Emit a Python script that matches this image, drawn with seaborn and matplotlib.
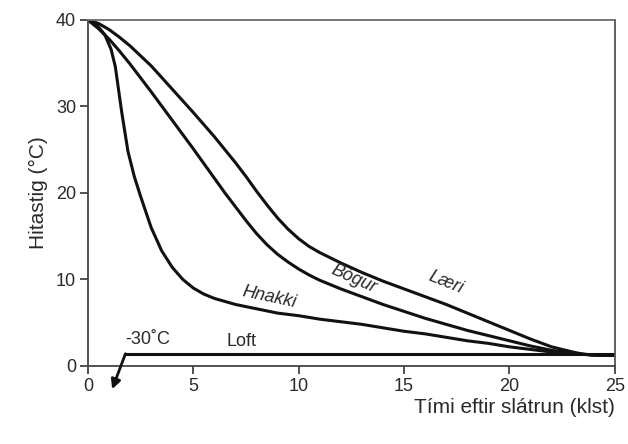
import numpy as np
import pandas as pd
import matplotlib
matplotlib.use("Agg")
import matplotlib.pyplot as plt
import seaborn as sns

# Data
laeri_x = [0, 0.5, 1, 1.5, 2, 3, 4, 5, 5.5, 6, 6.5, 7, 7.5, 8, 8.5, 9, 9.5, 10, 10.5, 11, 11.5, 12, 13, 14, 15, 16, 17, 18, 19, 20, 21, 22, 23, 23.5, 24, 25]
laeri_y = [40, 39.6, 38.9, 38.0, 37.0, 34.7, 32.0, 29.3, 27.9, 26.5, 25.0, 23.5, 21.9, 20.2, 18.6, 17.1, 15.8, 14.7, 13.8, 13.1, 12.5, 11.9, 10.8, 9.8, 8.9, 8.0, 7.1, 6.1, 5.1, 4.1, 3.1, 2.2, 1.6, 1.35, 1.25, 1.2]
bogur_x = [0, 0.5, 1, 1.5, 2, 3, 4, 5, 6, 6.5, 7, 7.5, 8, 8.5, 9, 9.5, 10, 10.5, 11, 11.5, 12, 13, 14, 15, 16, 17, 18, 19, 20, 21, 22, 23, 24, 25]
bogur_y = [40, 39.0, 37.8, 36.4, 34.9, 31.7, 28.4, 25.1, 21.7, 20.0, 18.4, 16.8, 15.3, 14.0, 12.9, 12.0, 11.2, 10.5, 9.9, 9.4, 8.9, 8.0, 7.1, 6.3, 5.5, 4.8, 4.1, 3.5, 2.9, 2.3, 1.8, 1.45, 1.25, 1.2]
hnakki_x = [0, 0.4, 0.8, 1.1, 1.3, 1.6, 1.9, 2.2, 2.5, 3.0, 3.5, 4.0, 4.5, 5.0, 5.5, 6, 7, 8, 9, 10, 11, 12, 13, 14, 15, 16, 17, 18, 19, 20, 21, 22, 23, 24, 25]
hnakki_y = [40, 39.5, 38.3, 36.6, 34.6, 29.4, 24.8, 21.9, 19.6, 16.0, 13.3, 11.4, 10.0, 9.0, 8.3, 7.8, 7.1, 6.6, 6.1, 5.8, 5.4, 5.1, 4.8, 4.4, 4.0, 3.7, 3.3, 2.9, 2.6, 2.2, 1.9, 1.6, 1.4, 1.25, 1.2]
loft_x = [1.75, 25]
loft_y = [1.4, 1.4]

x_ticks = [0, 5, 10, 15, 20, 25]
y_ticks = [0, 10, 20, 30, 40]

frames = []
for name, xs, ys in [("Læri", laeri_x, laeri_y), ("Bógur", bogur_x, bogur_y),
                     ("Hnakki", hnakki_x, hnakki_y), ("Loft", loft_x, loft_y)]:
    frames.append(pd.DataFrame({"t": xs, "T": ys, "hluti": name}))
df = pd.concat(frames, ignore_index=True)

sns.set_style("ticks")
plt.rcParams['font.family'] = ['Liberation Sans', 'DejaVu Sans']

fig = plt.figure(figsize=(6.28, 4.44), dpi=100)
ax = fig.add_axes([0.140, 0.176, 0.839, 0.779])

sns.lineplot(data=df, x="t", y="T", hue="hluti", units="hluti", estimator=None,
             palette={"Læri": "#111111", "Bógur": "#111111", "Hnakki": "#111111", "Loft": "#111111"},
             linewidth=2.2, legend=False, ax=ax, sort=False)
for ln in ax.get_lines():
    ln.set_solid_joinstyle("round")
    ln.set_solid_capstyle("round")

ax.set_xlim(0, 25)
ax.set_ylim(0, 40)
ax.set_xticks(x_ticks)
ax.set_yticks(y_ticks)
ax.tick_params(axis="both", direction="out", length=5.5, width=1.2, colors="#333333",
               labelsize=13, labelcolor="#2a2a2a")
ax.tick_params(axis="x", pad=3)
ax.tick_params(axis="y", pad=3)
for s in ax.spines.values():
    s.set_visible(True)
    s.set_color("#444444")
    s.set_linewidth(1.3)
ax.spines["top"].set_color("#667066")
ax.spines["right"].set_color("#555555")

ax.set_xlabel("")
ax.set_ylabel("Hitastig (°C)", fontsize=15, color="#2a2a2a", labelpad=6)
fig.text(0.979, 0.06, "Tími eftir slátrun (klst)", ha="right", va="bottom",
         fontsize=15, color="#2a2a2a")

# arrow for air temperature
ax.annotate("", xy=(1.15, -2.7), xytext=(1.78, 1.4), annotation_clip=False,
            arrowprops=dict(arrowstyle="-|>", color="#111111", lw=2.0,
                            mutation_scale=14, shrinkA=0, shrinkB=0))

ax.text(2.85, 3.1, "-30˚C", fontsize=13, ha="center", va="center", color="#2a2a2a")
ax.text(7.3, 2.8, "Loft", fontsize=13, ha="center", va="center", color="#2a2a2a")
ax.text(8.6, 7.9, "Hnakki", fontsize=13, ha="center", va="center", rotation=-12,
        color="#2a2a2a", style="italic")
ax.text(12.6, 10.0, "Bógur", fontsize=13, ha="center", va="center", rotation=-24,
        color="#2a2a2a", style="italic")
ax.text(17.0, 9.6, "Læri", fontsize=13, ha="center", va="center", rotation=-22,
        color="#2a2a2a", style="italic")

fig.savefig("out.png", dpi=100)
